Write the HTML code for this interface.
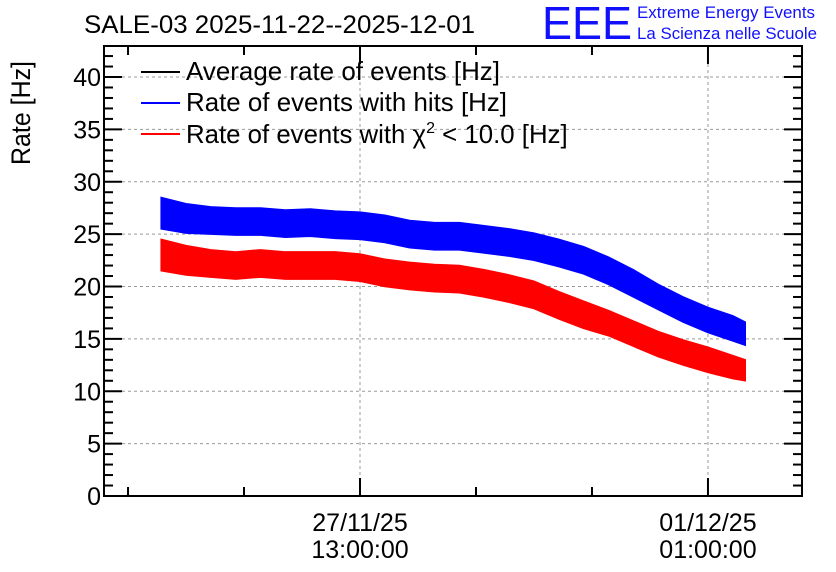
<!DOCTYPE html>
<html><head><meta charset="utf-8"><style>
body{margin:0;background:#fff}
svg{display:block;font-family:"Liberation Sans",sans-serif}
</style></head><body>
<svg id="chart" width="836" height="572">
<text x="84" y="33" font-size="25" textLength="391" lengthAdjust="spacingAndGlyphs">SALE-03 2025-11-22--2025-12-01</text>
<text x="542" y="39" font-size="46" fill="#1010ff" textLength="90" lengthAdjust="spacingAndGlyphs">EEE</text>
<text x="637" y="18" font-size="17" fill="#1010ff" textLength="178" lengthAdjust="spacingAndGlyphs">Extreme Energy Events</text>
<text x="637" y="39" font-size="17" fill="#1010ff" textLength="180" lengthAdjust="spacingAndGlyphs">La Scienza nelle Scuole</text>
<text transform="translate(30,165) rotate(-90)" font-size="27" textLength="104" lengthAdjust="spacingAndGlyphs">Rate [Hz]</text>
<g id="grid"></g><g id="series"></g><g id="axes"></g>
<g font-size="25.8">
<line x1="141" y1="72" x2="180" y2="72" stroke="#000" stroke-width="2"/>
<text x="186" y="80" textLength="314" lengthAdjust="spacingAndGlyphs">Average rate of events [Hz]</text>
<line x1="141" y1="103" x2="180" y2="103" stroke="#0000ff" stroke-width="2"/>
<text x="186" y="111" textLength="321" lengthAdjust="spacingAndGlyphs">Rate of events with hits [Hz]</text>
<line x1="141" y1="134" x2="180" y2="134" stroke="#ff0000" stroke-width="2"/>
<text x="186" y="143">Rate of events with χ<tspan dy="-10" font-size="16">2</tspan><tspan dy="10"> &lt; 10.0 [Hz]</tspan></text>
</g>
</svg>
<script>
// hours relative to 27/11/25 13:00
const hours=[-48,-42,-36,-30,-24,-18,-12,-6,0,6,12,18,24,30,36,42,48,54,60,66,72,78,84,90,93];
const hitsRate=[27,26.5,26.3,26.2,26.2,26,26.1,25.9,25.8,25.5,25,24.8,24.8,24.5,24.2,23.8,23.2,22.5,21.5,20.3,19,17.8,16.8,16,15.5];
const chi2Rate=[23,22.5,22.2,22,22.2,22,22,22,21.8,21.3,21,20.8,20.7,20.3,19.8,19.2,18.2,17.3,16.5,15.5,14.5,13.7,13,12.3,12];
const hitsSpread=[1.5,1.4,1.3,1.3,1.3,1.3,1.3,1.3,1.3,1.3,1.3,1.3,1.3,1.3,1.3,1.3,1.3,1.3,1.3,1.3,1.2,1.2,1.2,1.2,1.1];
const chi2Spread=[1.5,1.4,1.3,1.3,1.3,1.3,1.3,1.3,1.3,1.3,1.3,1.3,1.3,1.3,1.3,1.3,1.3,1.3,1.2,1.2,1.2,1.2,1.2,1.1,1.0];
const yTicks=[0,5,10,15,20,25,30,35,40];
const xMajorHours=[0,84];
const xMajorLabels=[["27/11/25","13:00:00"],["01/12/25","01:00:00"]];
const X0=104,X1=802,Y0=496,Y1=46,HMIN=-61.8,HMAX=106.7,YMAX=42.96;
const xs=h=>X0+(h-HMIN)/(HMAX-HMIN)*(X1-X0);
const ys=v=>Y0-v/YMAX*(Y0-Y1);
const NS="http://www.w3.org/2000/svg";
function mk(tag,attrs,parent){const e=document.createElementNS(NS,tag);for(const k in attrs)e.setAttribute(k,attrs[k]);parent.appendChild(e);return e;}
const grid=document.getElementById('grid'),axes=document.getElementById('axes'),ser=document.getElementById('series');
yTicks.forEach(v=>{
  if(v>0){const g=mk('line',{x1:X0,x2:X1,y1:ys(v),y2:ys(v),stroke:'#999','stroke-dasharray':'3,3','stroke-width':1},grid);
  
  }
  const t=mk('text',{x:X0-3,y:ys(v)+9,'font-size':25,'text-anchor':'end'},axes);t.textContent=v;
  
  
  mk('line',{x1:X0,x2:X0+18,y1:ys(v),y2:ys(v),stroke:'#000','stroke-width':2},axes);
  mk('line',{x1:X1,x2:X1-18,y1:ys(v),y2:ys(v),stroke:'#000','stroke-width':2},axes);
});
for(let v=1;v<YMAX;v++){if(v%5){mk('line',{x1:X0,x2:X0+9,y1:ys(v),y2:ys(v),stroke:'#000','stroke-width':2},axes);mk('line',{x1:X1,x2:X1-9,y1:ys(v),y2:ys(v),stroke:'#000','stroke-width':2},axes);}}
for(let h=-56;h<HMAX;h+=28){const major=xMajorHours.includes(h);const L=major?18:9;
  mk('line',{x1:xs(h),x2:xs(h),y1:Y0,y2:Y0-L,stroke:'#000','stroke-width':2},axes);
  mk('line',{x1:xs(h),x2:xs(h),y1:Y1,y2:Y1+L,stroke:'#000','stroke-width':2},axes);}
xMajorHours.forEach((h,i)=>{
  const g=mk('line',{x1:xs(h),x2:xs(h),y1:Y1,y2:Y0,stroke:'#999','stroke-dasharray':'3,3','stroke-width':1},grid);
  
  
  xMajorLabels[i].forEach((s,j)=>{const t=mk('text',{x:xs(h),y:531+j*27,'font-size':25,'text-anchor':'middle'},axes);t.textContent=s;
    
    });
});
const fr=mk('rect',{x:X0,y:Y1,width:X1-X0,height:Y0-Y1,fill:'none',stroke:'#000','stroke-width':2},axes);


function band(vals,spr,color,name){
  const up=hours.map((h,i)=>xs(h)+','+ys(vals[i]+spr[i]));
  const lo=hours.map((h,i)=>xs(h)+','+ys(vals[i]-spr[i])).reverse();
  const p=mk('polygon',{points:up.concat(lo).join(' '),fill:color,stroke:color,'stroke-width':1.5},ser);
  
  
}
band(hitsRate,hitsSpread,'#0000ff','series-hits-rate');
band(chi2Rate,chi2Spread,'#ff0000','series-chi2-rate');
</script>
</body></html>
